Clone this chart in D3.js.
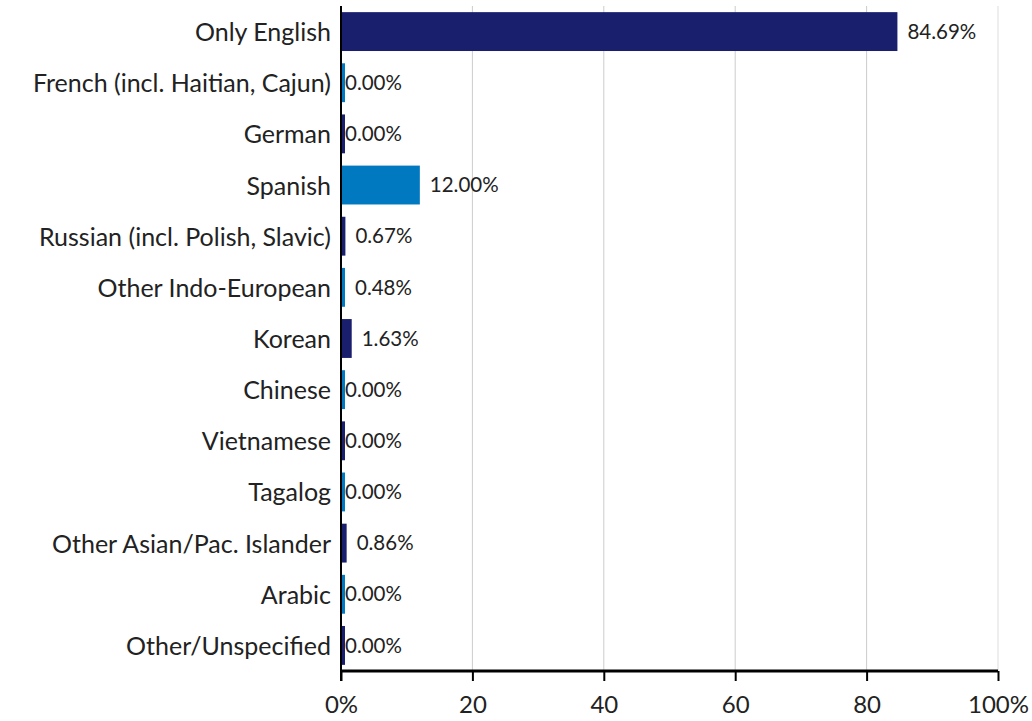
<!DOCTYPE html>
<html lang="en">
<head>
    <meta charset="utf-8">
    <script src="https://d3js.org/d3.v7.min.js"></script>
    <style>
        body { margin: 0; background: #fff; }
        text { font-family: Lato, "Open Sans", sans-serif; fill: #222; }
    </style>
</head>
<body>
    <div class="chart"></div>
    <script>
        // data
        const languages = ["Only English", "French (incl. Haitian, Cajun)", "German", "Spanish",
            "Russian (incl. Polish, Slavic)", "Other Indo-European", "Korean", "Chinese", "Vietnamese",
            "Tagalog", "Other Asian/Pac. Islander", "Arabic", "Other/Unspecified"];
        const shares = [84.69, 0, 0, 12.00, 0.67, 0.48, 1.63, 0, 0, 0, 0.86, 0, 0];
        const xTicks = [0, 20, 40, 60, 80, 100];
        const barColors = ["#1a1f6d", "#0079c1"];

        const data = languages.map((d, i) => ({ name: d, value: shares[i] }));

        // dimensions
        const width = 1032;
        const height = 721;
        const margin = { top: 6, right: 34, bottom: 50, left: 341 };
        const plotW = width - margin.left - margin.right;
        const plotH = height - margin.top - margin.bottom;

        const svg = d3.select(".chart").append("svg")
            .attr("width", width)
            .attr("height", height)
            .append("g")
            .attr("transform", "translate(" + margin.left + "," + margin.top + ")");

        const x = d3.scaleLinear().domain([0, 100]).range([0, 657]);
        const y = d3.scaleBand().domain(languages).range([0, plotH]).paddingInner(0.24).paddingOuter(0.12);

        // grid lines
        svg.selectAll(".grid")
            .data(xTicks.slice(1))
            .enter()
            .append("line")
            .attr("x1", d => x(d)).attr("x2", d => x(d))
            .attr("y1", 0).attr("y2", plotH)
            .attr("stroke", d => d == 100 ? "#ddd" : "#ccc")
            .attr("stroke-width", 1);

        // bars (tiny values still get a visible stub)
        svg.selectAll(".bar")
            .data(data)
            .enter()
            .append("rect")
            .attr("x", 0)
            .attr("y", d => y(d.name))
            .attr("width", d => Math.max(4, x(d.value)))
            .attr("height", y.bandwidth())
            .attr("fill", (d, i) => barColors[i % 2]);

        // value labels
        svg.selectAll(".val")
            .data(data)
            .enter()
            .append("text")
            .attr("x", d => d.value > 0 ? Math.max(4, x(d.value)) + 10 : 4)
            .attr("y", d => y(d.name) + y.bandwidth() / 2)
            .attr("dy", "0.35em")
            .attr("font-size", 20.5)
            .text(d => d.value.toFixed(2) + "%");

        // x axis
        const xAxis = svg.append("g")
            .attr("transform", "translate(0," + plotH + ")")
            .call(d3.axisBottom(x).tickValues(xTicks).tickSize(10).tickPadding(15)
                .tickFormat(d => (d == 0 || d == 100) ? d + "%" : d));
        xAxis.select(".domain").attr("d", "M0,0H" + plotW).attr("stroke", "#000").attr("stroke-width", 3);
        xAxis.selectAll(".tick line").attr("stroke", "#000").attr("stroke-width", 2);
        xAxis.selectAll("text").attr("font-size", 24).style("fill", "#222");

        // y axis
        const yAxis = svg.append("g")
            .call(d3.axisLeft(y).tickSize(0).tickPadding(10));
        yAxis.select(".domain").attr("d", "M0,0V" + (plotH + 10)).attr("stroke", "#000").attr("stroke-width", 2);
        yAxis.selectAll("text").attr("font-size", 25).attr("dy", "0.38em").style("fill", "#222");
    </script>
</body>
</html>
